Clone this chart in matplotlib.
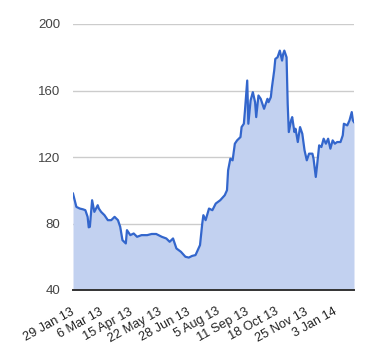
import matplotlib
matplotlib.use("Agg")
import matplotlib.pyplot as plt
from matplotlib.transforms import ScaledTranslation

# trading-day index and closing values
day = [0, 3, 6, 9, 11, 13, 14, 15, 17, 19, 22, 23, 25, 28, 31, 34, 37, 40, 42, 44,
       47, 48, 51, 54, 57, 61, 66, 70, 74, 79, 83, 86, 89, 92, 96, 100, 103, 106, 109,
       111, 113, 115, 116, 118, 121, 124, 127, 131, 135, 137, 138, 140, 142, 144, 146,
       149, 150, 152, 153, 155, 156, 158, 160, 162, 163, 165, 167, 170, 171, 173, 174,
       176, 177, 179, 180, 182, 184, 186, 187, 188, 190, 191, 192, 194, 195, 197, 198,
       200, 202, 204, 206, 208, 210, 213, 214, 216, 217, 219, 221, 223, 225, 227, 229,
       231, 233, 235, 238, 240, 241, 244, 246, 248, 249, 250]
value = [98, 90, 89, 88.5, 88, 84, 77.7, 78, 94, 87, 91, 89, 87, 85, 82, 82, 84, 82, 78, 70,
         68, 76, 73, 74, 72, 73, 73, 73.7, 73.7, 72, 71, 69, 71, 65, 63, 60, 59.5, 60.5, 61,
         64, 67, 80, 85, 82, 89, 88, 92, 94, 97, 100, 112, 119, 118, 128, 130,
         132, 138, 140, 148, 166, 140, 154, 159, 153, 144, 157, 155, 149, 151, 155, 153,
         156, 162, 172, 179, 180, 184, 178, 182, 184, 180, 152, 135, 142, 144, 135, 137,
         129, 138, 134, 124, 118, 122, 122, 119, 108, 114, 127, 126, 131, 128, 131, 125,
         130, 128, 129, 129, 133, 140, 139, 142, 147, 142, 141]

tick_days = [0, 26, 52, 78, 104, 130, 156, 182, 208, 234]
tick_labels = ["29 Jan 13", "6 Mar 13", "15 Apr 13", "22 May 13", "28 Jun 13",
               "5 Aug 13", "11 Sep 13", "18 Oct 13", "25 Nov 13", "3 Jan 14"]
y_ticks = [40, 80, 120, 160, 200]

plt.rcParams['font.family'] = ['Liberation Sans', 'DejaVu Sans']

fig = plt.figure(figsize=(3.8, 3.6), dpi=100)
ax = fig.add_axes([73 / 380, 1 - 290 / 360, (354 - 73) / 380, (290 - 24) / 360])

ax.fill_between(day, value, 40, color='#c2d1f0', linewidth=0, zorder=2)
ax.plot(day, value, color='#3366cc', linewidth=1.6, zorder=3, solid_joinstyle='round')

ax.set_xlim(0, 250)
ax.set_ylim(40, 200)
ax.set_yticks(y_ticks)
ax.set_yticklabels([str(v) for v in y_ticks])
ax.set_xticks(tick_days)
ax.set_xticklabels(tick_labels, rotation=29, ha='right', va='center',
                   rotation_mode='anchor')
shift = ScaledTranslation(-6 / 100, 0, fig.dpi_scale_trans)
for lbl in ax.get_xticklabels():
    lbl.set_transform(lbl.get_transform() + shift)

ax.grid(axis='y', color='#cccccc', linewidth=1.0, zorder=1)
ax.set_axisbelow(True)
for s in ['top', 'right', 'left']:
    ax.spines[s].set_visible(False)
ax.spines['bottom'].set_color('#333333')
ax.spines['bottom'].set_linewidth(1.4)
ax.spines['bottom'].set_zorder(4)

ax.tick_params(axis='y', length=0, pad=9, labelsize=9.5, labelcolor='#444444')
ax.tick_params(axis='x', length=0, pad=15, labelsize=9.2, labelcolor='#222222')

fig.savefig('out.png', dpi=100)
